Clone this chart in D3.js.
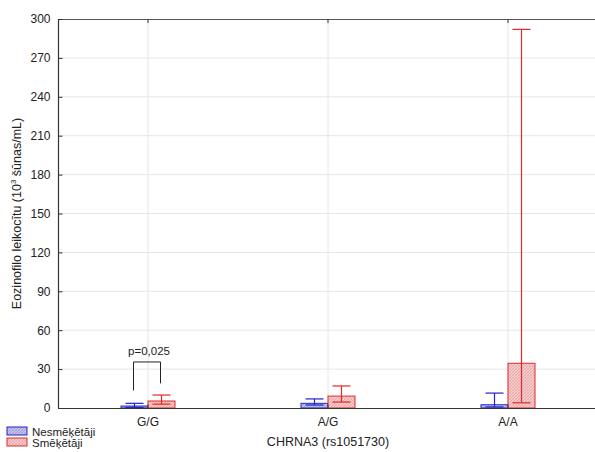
<!DOCTYPE html>
<html>
<head>
<meta charset="utf-8">
<script src="https://cdn.jsdelivr.net/npm/d3@7"></script>
<style>
  html, body { margin: 0; padding: 0; background: #fff; }
  svg { display: block; font-family: Arial, "Liberation Sans", sans-serif; }
</style>
</head>
<body>
<svg id="chart" width="595" height="452"></svg>
<script>
// Genotypes of CHRNA3 rs1051730
const categories = ["G/G", "A/G", "A/A"];
const groups = ["Nesmēķētāji", "Smēķētāji"];
// Mean eosinophil counts per group (10^3 cells/mL)
const nonSmokerMean = [1.5, 3.6, 2.5];
const smokerMean = [5.4, 9.2, 34.5];
// Error bar bounds (low, high)
const nonSmokerLow = [0.5, 2.3, 0.8];
const nonSmokerHigh = [3.6, 7.0, 11.5];
const smokerLow = [3.0, 4.6, 4.0];
const smokerHigh = [10.0, 17.0, 292];
const yTicks = [0, 30, 60, 90, 120, 150, 180, 210, 240, 270, 300];
const pLabel = "p=0,025";

const svg = d3.select("#chart");
const margin = { left: 58, top: 19, right: -3, bottom: 44 };
const W = 595, H = 452;
const x0 = margin.left, x1 = W - margin.right;
const yTop = margin.top, yBot = H - margin.bottom;
const FONT = "Arial, 'Liberation Sans', sans-serif";

const x = d3.scaleBand().domain(categories).range([x0, x1]);
const xg = d3.scaleBand().domain(groups).range([-27, 27]);
const y = d3.scaleLinear().domain([0, 300]).range([yBot, yTop]);

const colors = {
  "Nesmēķētāji": { stroke: "#2323c8", fill: "#c6c6ea", hatch: "#8f8fd4" },
  "Smēķētāji": { stroke: "#e02a2a", fill: "#f6cccc", hatch: "#e39a9a" }
};

// hatch patterns for the bar fills
const defs = svg.append("defs");
groups.forEach((g, i) => {
  const p = defs.append("pattern")
    .attr("id", "hatch" + i)
    .attr("patternUnits", "userSpaceOnUse")
    .attr("width", 3).attr("height", 3);
  p.append("rect").attr("width", 3).attr("height", 3).attr("fill", colors[g].fill);
  p.append("path").attr("d", "M0,3 L3,0").attr("stroke", colors[g].hatch).attr("stroke-width", 0.7);
  p.append("path").attr("d", "M0,0 L3,3").attr("stroke", colors[g].hatch).attr("stroke-width", 0.5).attr("opacity", 0.6);
});

// grid
const grid = svg.append("g");
grid.selectAll("line.h").data(yTicks.filter(t => t > 0 && t < 300)).join("line")
  .attr("x1", x0).attr("x2", x1)
  .attr("y1", d => y(d)).attr("y2", d => y(d))
  .attr("stroke", "#e6e6e6").attr("stroke-width", 1);
grid.selectAll("line.v").data(categories).join("line")
  .attr("x1", d => x(d) + x.bandwidth() / 2).attr("x2", d => x(d) + x.bandwidth() / 2)
  .attr("y1", yTop).attr("y2", yBot)
  .attr("stroke", "#e6e6e6").attr("stroke-width", 1);

// bars
const data = [];
categories.forEach((c, i) => {
  data.push({ c, g: groups[0], gi: 0, mean: nonSmokerMean[i], lo: nonSmokerLow[i], hi: nonSmokerHigh[i] });
  data.push({ c, g: groups[1], gi: 1, mean: smokerMean[i], lo: smokerLow[i], hi: smokerHigh[i] });
});
const cx = d => x(d.c) + x.bandwidth() / 2;

svg.append("g").selectAll("rect").data(data).join("rect")
  .attr("x", d => cx(d) + xg(d.g))
  .attr("width", xg.bandwidth())
  .attr("y", d => y(d.mean))
  .attr("height", d => y(0) - y(d.mean))
  .attr("fill", d => `url(#hatch${d.gi})`)
  .attr("stroke", d => colors[d.g].stroke)
  .attr("stroke-width", 1);

// error bars
const eb = svg.append("g").selectAll("g").data(data).join("g")
  .attr("stroke", d => colors[d.g].stroke).attr("stroke-width", 1.2);
const mid = d => cx(d) + xg(d.g) + xg.bandwidth() / 2;
const capW = 9;
eb.append("line").attr("x1", mid).attr("x2", mid)
  .attr("y1", d => y(d.lo)).attr("y2", d => y(d.hi));
eb.append("line").attr("x1", d => mid(d) - capW).attr("x2", d => mid(d) + capW)
  .attr("y1", d => y(d.hi)).attr("y2", d => y(d.hi));
eb.append("line").attr("x1", d => mid(d) - capW).attr("x2", d => mid(d) + capW)
  .attr("y1", d => y(d.lo)).attr("y2", d => y(d.lo));

// axes frame
const axisColor = "#333";
svg.append("line").attr("x1", x0).attr("x2", x1).attr("y1", yBot + 0.5).attr("y2", yBot + 0.5)
  .attr("stroke", axisColor).attr("stroke-width", 1.2);
svg.append("line").attr("x1", x0).attr("x2", x1).attr("y1", yTop + 0.5).attr("y2", yTop + 0.5)
  .attr("stroke", "#555").attr("stroke-width", 1);
svg.append("line").attr("x1", x0 + 0.5).attr("x2", x0 + 0.5).attr("y1", yTop).attr("y2", yBot)
  .attr("stroke", axisColor).attr("stroke-width", 1.2);

// y axis
const yAxis = d3.axisLeft(y).tickValues(yTicks).tickSize(-4).tickPadding(8);
const ya = svg.append("g").attr("transform", `translate(${x0 + 0.5},0)`).call(yAxis);
ya.select(".domain").remove();
ya.selectAll(".tick line").attr("stroke", axisColor);
ya.selectAll("text").attr("font-size", 12).attr("fill", "#222").attr("font-family", FONT);

// x axis
const xAxis = d3.axisBottom(x).tickSize(-4).tickPadding(9);
const xa = svg.append("g").attr("transform", `translate(0,${yBot + 0.5})`).call(xAxis);
xa.select(".domain").remove();
xa.selectAll(".tick line").attr("stroke", axisColor);
xa.selectAll("text").attr("font-size", 12).attr("fill", "#222").attr("font-family", FONT);

// top ticks
svg.append("g").selectAll("line").data(categories).join("line")
  .attr("x1", d => x(d) + x.bandwidth() / 2).attr("x2", d => x(d) + x.bandwidth() / 2)
  .attr("y1", yTop).attr("y2", yTop + 4).attr("stroke", axisColor);

// axis titles
svg.append("text").attr("x", 328).attr("y", 446)
  .attr("text-anchor", "middle").attr("font-size", 12.5).attr("fill", "#222")
  .text("CHRNA3 (rs1051730)");
const yt = svg.append("text")
  .attr("transform", `translate(21,${(yTop + yBot) / 2}) rotate(-90)`)
  .attr("text-anchor", "middle").attr("font-size", 12.5).attr("fill", "#222");
yt.append("tspan").text("Eozinofilo leikocītu (10");
yt.append("tspan").attr("font-size", 8).attr("dy", -5).text("3");
yt.append("tspan").attr("dy", 5).text(" šūnas/mL)");

// significance bracket between G/G groups
const gg = data.filter(d => d.c === "G/G");
const bx1 = mid(gg[0]) - 1, bx2 = mid(gg[1]) - 1;
const bTop = y(35.5);
svg.append("path")
  .attr("d", `M${bx1},${y(13.5)} V${bTop} H${bx2} V${y(19)}`)
  .attr("fill", "none").attr("stroke", "#222").attr("stroke-width", 1);
svg.append("text").attr("x", (bx1 + bx2) / 2 + 2).attr("y", bTop - 7)
  .attr("text-anchor", "middle").attr("font-size", 11.5).attr("fill", "#222")
  .text(pLabel);

// legend
const lg = svg.append("g").selectAll("g").data(groups).join("g")
  .attr("transform", (d, i) => `translate(7,${427 + i * 11})`);
lg.append("rect").attr("width", 20).attr("height", 8)
  .attr("fill", (d, i) => `url(#hatch${i})`)
  .attr("stroke", d => colors[d].stroke).attr("stroke-width", 1);
lg.append("text").attr("x", 25).attr("y", 8.5)
  .attr("font-size", 11.5).attr("fill", "#222").text(d => d);
</script>
</body>
</html>
